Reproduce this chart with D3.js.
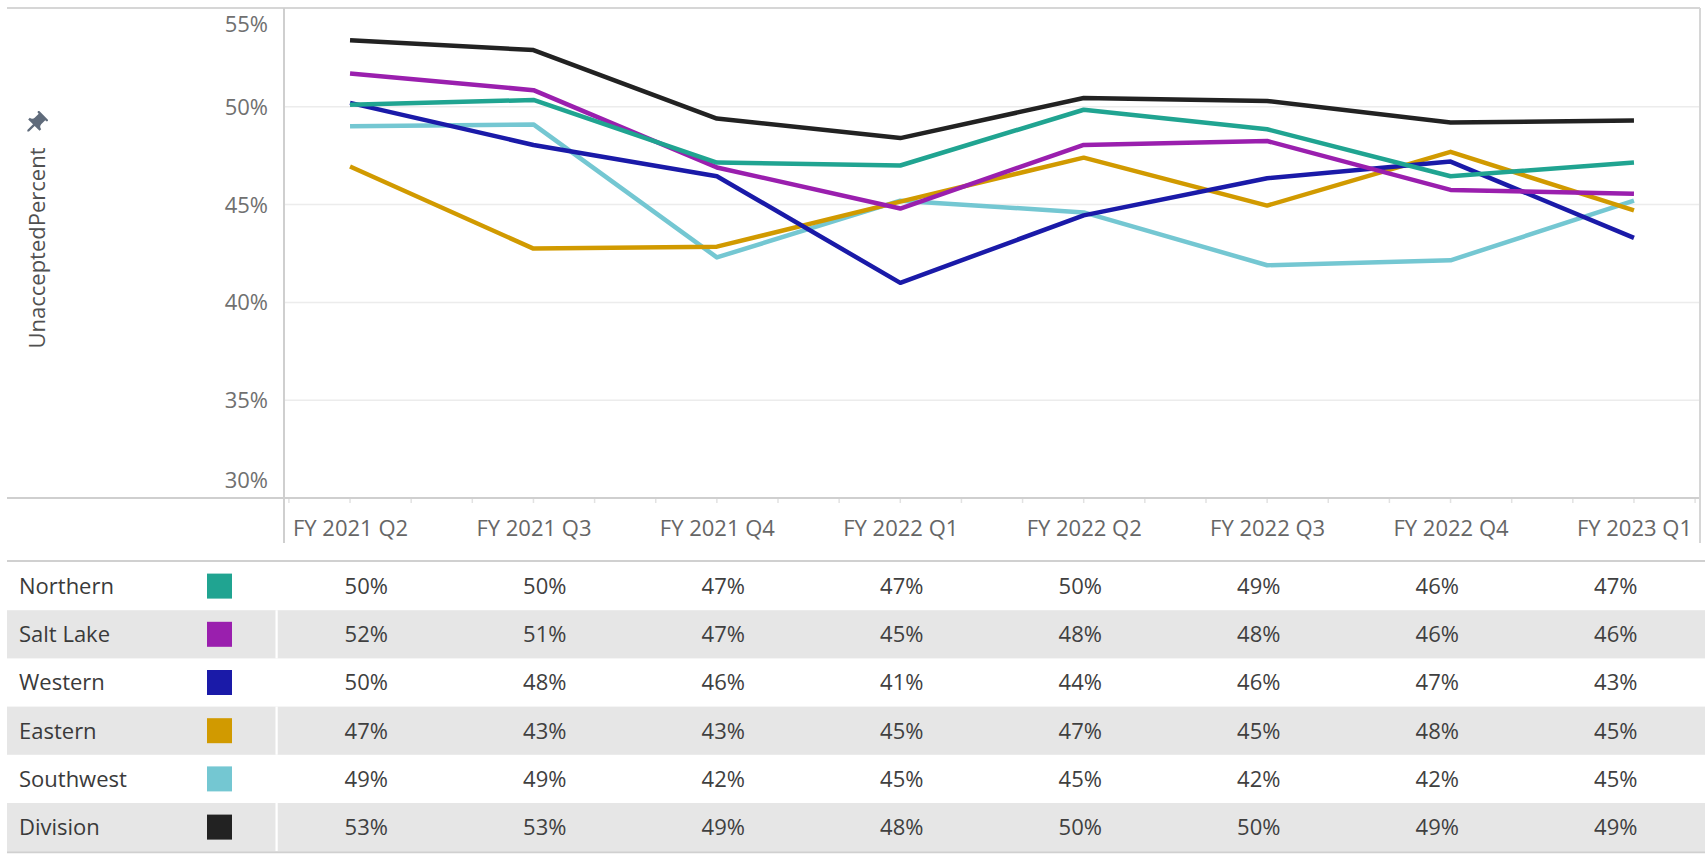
<!DOCTYPE html>
<html>
<head>
<meta charset="utf-8">
<script src="https://cdn.jsdelivr.net/npm/d3@7"></script>
<style>
  html, body { margin: 0; padding: 0; background: #ffffff; }
  svg { display: block; font-family: "Open Sans", "Noto Sans", sans-serif; }
</style>
</head>
<body>
<svg id="chart" width="1705" height="859"></svg>
<script>
// ---------- data ----------
const categories = ["FY 2021 Q2", "FY 2021 Q3", "FY 2021 Q4", "FY 2022 Q1",
                    "FY 2022 Q2", "FY 2022 Q3", "FY 2022 Q4", "FY 2023 Q1"];
const seriesNames = ["Northern", "Salt Lake", "Western", "Eastern", "Southwest", "Division"];
const seriesColors = ["#20A491", "#9A1FAE", "#1A1AA8", "#D19A00", "#74C7D2", "#222222"];
// values in percent
const northern  = [50.1, 50.35, 47.15, 47.0, 49.85, 48.85, 46.45, 47.15];
const saltLake  = [51.7, 50.85, 46.9, 44.8, 48.05, 48.25, 45.75, 45.55];
const western   = [50.2, 48.05, 46.45, 41.0, 44.45, 46.35, 47.2, 43.3];
const eastern   = [46.95, 42.75, 42.85, 45.15, 47.4, 44.95, 47.7, 44.7];
const southwest = [49.0, 49.1, 42.3, 45.2, 44.6, 41.9, 42.15, 45.2];
const division  = [53.4, 52.9, 49.4, 48.4, 50.45, 50.3, 49.2, 49.3];
const yTicks = [30, 35, 40, 45, 50, 55];
const yTitle = "UnacceptedPercent";

const seriesValues = [northern, saltLake, western, eastern, southwest, division];
const series = seriesNames.map((n, i) => ({ name: n, color: seriesColors[i], values: seriesValues[i] }));

// ---------- layout ----------
const svg = d3.select("#chart");
const FONT = 22;
const plotLeft = 284, plotRight = 1700, plotTop = 9, plotBottom = 498;
const frameLeft = 7;

const x = d3.scalePoint().domain(categories).range([plotLeft, plotRight]).padding(0.36);
const y = d3.scaleLinear().domain([30, 55]).range([plotBottom, plotTop]);

// gridlines
svg.append("g").selectAll("line").data(yTicks.filter(t => t > 30 && t < 55)).join("line")
  .attr("x1", plotLeft).attr("x2", plotRight)
  .attr("y1", d => y(d)).attr("y2", d => y(d))
  .attr("stroke", "#ececec").attr("stroke-width", 1.5);

// frame lines
svg.append("line").attr("x1", frameLeft).attr("x2", plotRight).attr("y1", 8).attr("y2", 8)
  .attr("stroke", "#d6d6d6").attr("stroke-width", 2);
svg.append("line").attr("x1", frameLeft).attr("x2", plotRight).attr("y1", plotBottom).attr("y2", plotBottom)
  .attr("stroke", "#cfcfcf").attr("stroke-width", 2);
svg.append("line").attr("x1", plotLeft).attr("x2", plotLeft).attr("y1", 8).attr("y2", 543)
  .attr("stroke", "#cfcfcf").attr("stroke-width", 2);
svg.append("line").attr("x1", plotRight).attr("x2", plotRight).attr("y1", 8).attr("y2", 543)
  .attr("stroke", "#d6d6d6").attr("stroke-width", 2);

// minor ticks (three per quarter)
const step = x.step();
const tickXs = [];
categories.forEach(c => { [-1, 0, 1].forEach(k => tickXs.push(x(c) + k * step / 3)); });
tickXs.push(x(categories[categories.length - 1]) + 2 * step / 3);
svg.append("g").selectAll("line").data(tickXs.filter(v => v > plotLeft + 2 && v < plotRight - 2)).join("line")
  .attr("x1", d => d).attr("x2", d => d)
  .attr("y1", plotBottom + 1).attr("y2", plotBottom + 5)
  .attr("stroke", "#e2e2e2").attr("stroke-width", 1.5);

// y tick labels (clamped inside plot)
svg.append("g").selectAll("text").data(yTicks).join("text")
  .attr("x", 268)
  .attr("y", d => Math.min(Math.max(y(d), 24), 480))
  .attr("dy", "0.36em")
  .attr("text-anchor", "end")
  .attr("font-size", FONT)
  .attr("fill", "#707070")
  .text(d => d + "%");

// x axis labels
const xAxis = d3.axisBottom(x).tickSize(0).tickPadding(0);
const gx = svg.append("g").attr("transform", `translate(0, 528)`).call(xAxis);
gx.select(".domain").remove();
gx.selectAll("text")
  .attr("y", 0).attr("dy", "0.36em")
  .attr("font-size", FONT)
  .attr("font-family", '"Open Sans", "Noto Sans", sans-serif')
  .attr("fill", "#666666");

// y title
svg.append("text")
  .attr("transform", "translate(37, 248) rotate(-90)")
  .attr("text-anchor", "middle")
  .attr("dy", "0.36em")
  .attr("font-size", FONT)
  .attr("fill", "#505050")
  .text(yTitle);

// pin icon
svg.append("path")
  .attr("d", "M16,9V4l1,0c0.55,0,1-0.45,1-1v0c0-0.55-0.45-1-1-1H7C6.45,2,6,2.45,6,3v0c0,0.55,0.45,1,1,1l1,0v5c0,1.66-1.34,3-3,3h0v2h5.97v7l1,1l1-1v-7H19v-2h0C17.34,12,16,10.66,16,9z")
  .attr("transform", "translate(35.5,123.5) rotate(45) scale(1.15) translate(-12,-12)")
  .attr("fill", "#5f6b7b");

// lines
const line = d3.line().x((d, i) => x(categories[i])).y(d => y(d));
svg.append("g").selectAll("path").data(series.slice().reverse()).join("path")
  .attr("d", d => line(d.values))
  .attr("fill", "none")
  .attr("stroke", d => d.color)
  .attr("stroke-width", 4.5)
  .attr("stroke-linejoin", "round");

// ---------- table ----------
const tableTop = 562, rowH = 48.2, tableRight = 1705;
const col = d3.scaleBand().domain(categories).range([277, tableRight]);
const tbl = svg.append("g");

const rows = tbl.selectAll("g.row").data(series).join("g")
  .attr("class", "row")
  .attr("transform", (d, i) => `translate(0, ${tableTop + i * rowH})`);

rows.filter((d, i) => i % 2 === 1).append("rect")
  .attr("x", frameLeft).attr("y", 0).attr("width", tableRight - frameLeft).attr("height", rowH)
  .attr("fill", "#e6e6e6");
rows.filter((d, i) => i % 2 === 1).append("rect")
  .attr("x", 275.5).attr("y", 0).attr("width", 2.2).attr("height", rowH)
  .attr("fill", "#ffffff");

rows.append("text")
  .attr("x", 19).attr("y", rowH / 2).attr("dy", "0.36em")
  .attr("font-size", FONT).attr("fill", "#3a3a3a")
  .text(d => d.name);

rows.append("rect")
  .attr("x", 207).attr("y", rowH / 2 - 12.5).attr("width", 25).attr("height", 25)
  .attr("fill", d => d.color);

rows.selectAll("text.val").data(d => d.values.map((v, i) => ({ v, c: categories[i] }))).join("text")
  .attr("class", "val")
  .attr("x", d => col(d.c) + col.bandwidth() / 2)
  .attr("y", rowH / 2).attr("dy", "0.36em")
  .attr("text-anchor", "middle")
  .attr("font-size", FONT).attr("fill", "#404040")
  .text(d => Math.round(d.v) + "%");

// table rules
tbl.append("line").attr("x1", frameLeft).attr("x2", tableRight).attr("y1", tableTop - 1).attr("y2", tableTop - 1)
  .attr("stroke", "#d0d0d0").attr("stroke-width", 2);
tbl.append("line").attr("x1", frameLeft).attr("x2", tableRight)
  .attr("y1", tableTop + series.length * rowH + 1).attr("y2", tableTop + series.length * rowH + 1)
  .attr("stroke", "#d0d0d0").attr("stroke-width", 2);
</script>
</body>
</html>
